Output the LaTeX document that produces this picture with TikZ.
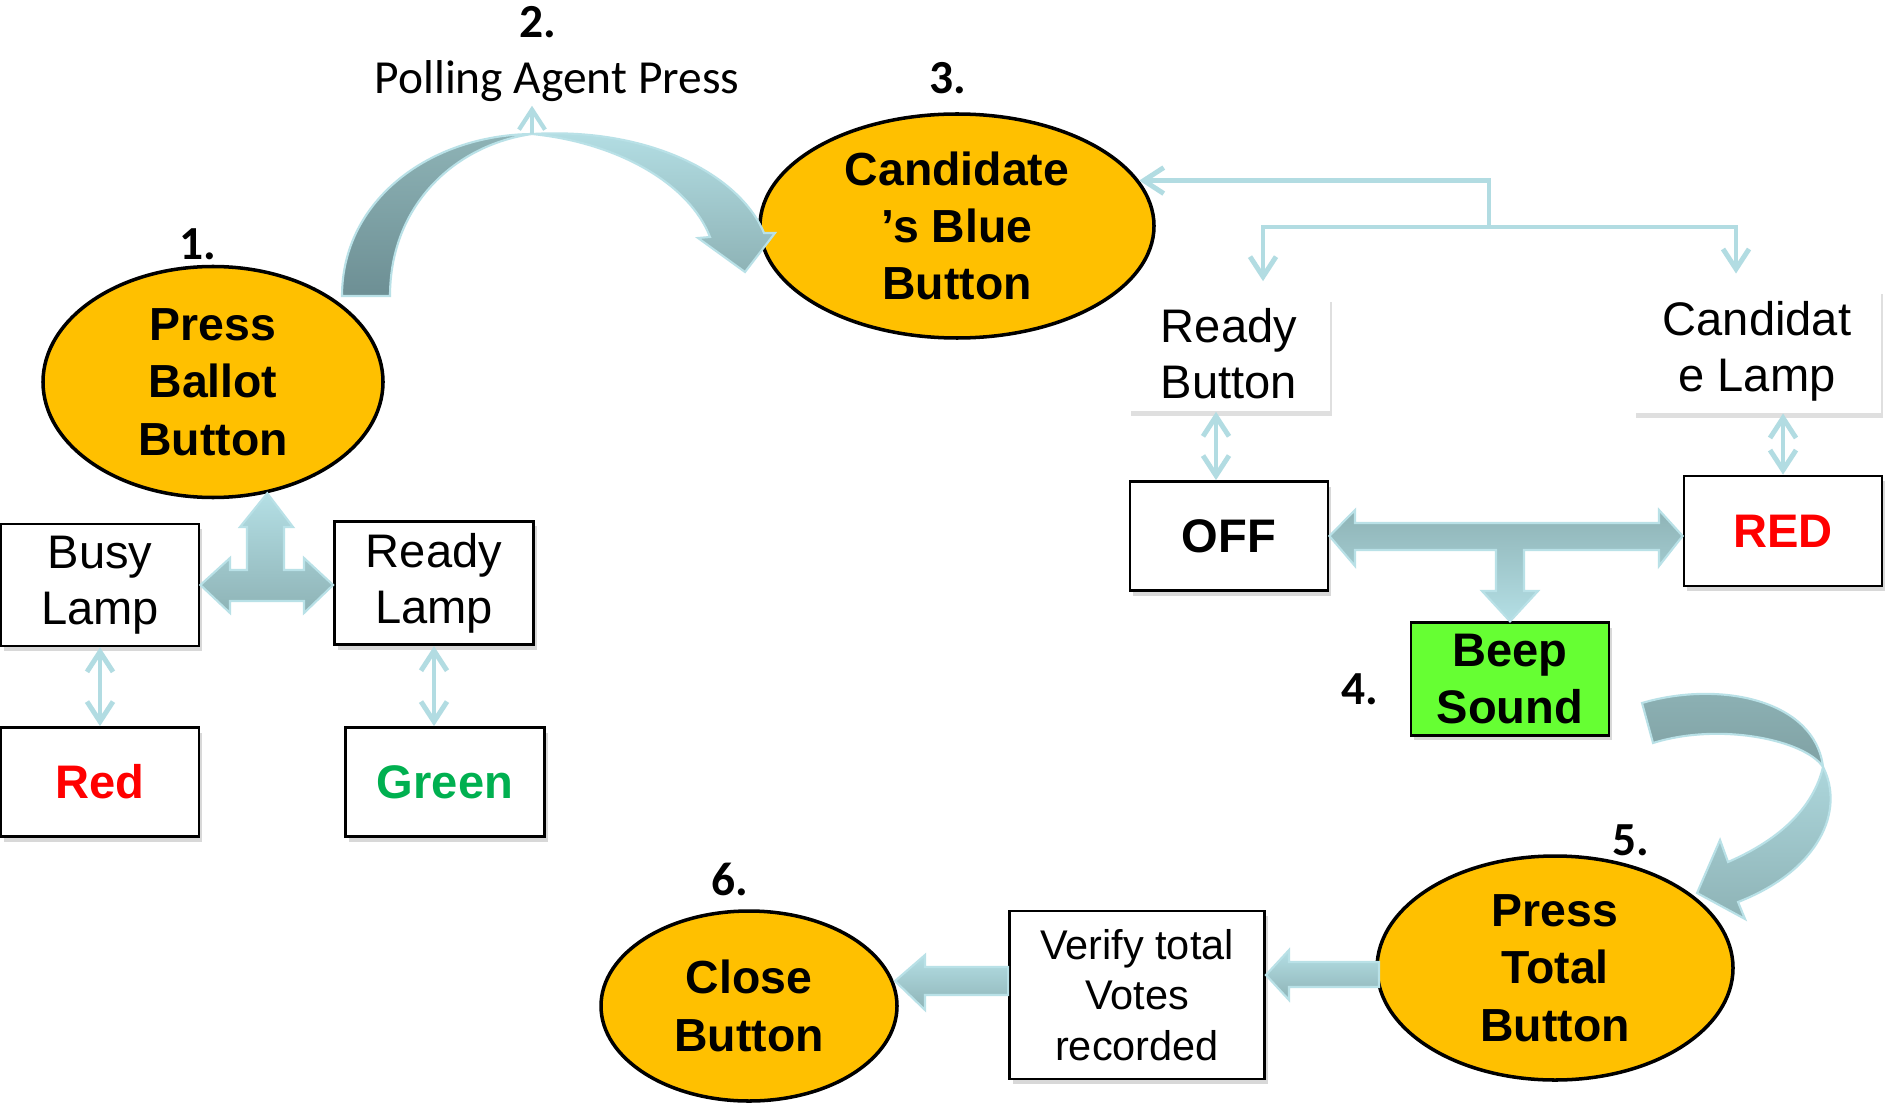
\documentclass[tikz,border=0pt]{standalone}
\usepackage{fontspec}
\setmainfont{Liberation Sans}
\newfontfamily\calibri{Carlito}
\usetikzlibrary{arrows.meta,positioning,calc,shapes.geometric,shadows}
\definecolor{Amber}{HTML}{FFC000}
\definecolor{Lime}{HTML}{66FF33}
\definecolor{LampRed}{HTML}{FF0000}
\definecolor{LampGreen}{HTML}{00B050}
\definecolor{Wire}{HTML}{B2DCE2}
\definecolor{FlowLight}{HTML}{B4DFE5}
\definecolor{FlowMid}{HTML}{8EB3B6}
\definecolor{FlowDeep}{HTML}{6D8F94}
\definecolor{FlowEdge}{HTML}{B9E1E7}
\tikzset{stage/.style={ellipse,draw=black,line width=1pt,fill=Amber,align=center,inner sep=0pt,font=\bfseries\fontsize{13.2}{16.3}\selectfont},lampbox/.style={rectangle,draw=black,line width=0.8pt,fill=white,minimum width=1.98cm,minimum height=1.09cm,align=center,font=\fontsize{13.4}{16}\selectfont,drop shadow={opacity=0.3,shadow xshift=0.03cm,shadow yshift=-0.05cm}},plainbox/.style={rectangle,fill=white,minimum height=1.12cm,align=center,font=\fontsize{13.4}{16}\selectfont,drop shadow={opacity=0.25,shadow xshift=0.02cm,shadow yshift=-0.05cm}},stepno/.style={font=\calibri\bfseries\fontsize{13.5}{16}\selectfont},wire/.style={draw=Wire,line width=1.4pt,-{Straight Barb[length=2mm,width=2.6mm]}},wirepair/.style={wire,{Straight Barb[length=2mm,width=2.6mm]}-{Straight Barb[length=2mm,width=2.6mm]}},blockarrow/.style={draw=FlowEdge,line width=0.6pt,top color=FlowLight,bottom color=FlowMid}}
\begin{document}
\begin{tikzpicture}
\fill[white] (0,0) rectangle (18.86,11.05);
\useasboundingbox (0,0) rectangle (18.86,11.05);
\node[stage,minimum width=3.40cm,minimum height=2.31cm] (ballot) at (2.13,7.23) {Press\\Ballot\\Button};
\node[stage,minimum width=3.94cm,minimum height=2.24cm] (cand) at (9.57,8.79) {Candidate\\’s Blue\\Button};
\node[stage,minimum width=3.56cm,minimum height=2.24cm] (total) at (15.55,1.37) {Press\\Total\\Button};
\node[stage,minimum width=2.96cm,minimum height=1.90cm] (close) at (7.49,0.99) {Close\\Button};
\node[stepno] at (1.98,8.61) {1.};
\node[stepno] at (5.38,10.83) {2.};
\node[stepno] at (9.48,10.27) {3.};
\node[stepno] at (13.60,4.16) {4.};
\node[stepno] at (16.31,2.65) {5.};
\node[stepno] at (7.30,2.26) {6.};
\node[font=\calibri\fontsize{13.5}{16}\selectfont,inner sep=1pt] (polling) at (5.57,10.24) {Polling Agent Press};
\node[lampbox] (busy) at (1.00,5.20) {Busy\\Lamp};
\node[lampbox,minimum width=1.99cm] (rlamp) at (4.34,5.22) {Ready\\Lamp};
\node[lampbox,text=LampRed,font=\bfseries\fontsize{13.4}{16}\selectfont] (redlamp) at (1.00,3.23) {Red};
\node[lampbox,text=LampGreen,font=\bfseries\fontsize{13.4}{16}\selectfont,minimum width=1.99cm] (greenlamp) at (4.45,3.23) {Green};
\node[plainbox,minimum width=2.01cm] (rbtn) at (12.29,7.51) {Ready\\Button};
\node[plainbox,minimum width=2.47cm] (clamp) at (17.57,7.54) {Candidat\\e Lamp};
\node[lampbox,font=\bfseries\fontsize{13.4}{16}\selectfont] (off) at (12.29,5.69) {OFF};
\node[lampbox,text=LampRed,font=\bfseries\fontsize{13.4}{16}\selectfont,minimum height=1.10cm] (red) at (17.83,5.74) {RED};
\node[lampbox,fill=Lime,font=\bfseries\fontsize{13.4}{16}\selectfont] (beep) at (15.10,4.26) {Beep\\Sound};
\node[lampbox,minimum width=2.55cm,minimum height=1.68cm,font=\fontsize{11.8}{14.3}\selectfont] (verify) at (11.37,1.10) {Verify total\\Votes\\recorded};
\coordinate (peak) at (5.32,9.71);
\draw[blockarrow,top color=FlowMid,bottom color=FlowDeep] (3.42,8.09) .. controls (3.42,9.05) and (4.30,9.70) .. (peak) .. controls (4.55,9.60) and (3.90,9.00) .. (3.90,8.09) -- cycle;
\draw[blockarrow] (peak) .. controls (6.50,9.78) and (7.40,9.30) .. (7.64,8.72) -- (7.75,8.72) -- (7.45,8.33) -- (6.98,8.67) -- (7.10,8.68) .. controls (6.90,9.20) and (6.20,9.62) .. (peak) -- cycle;
\draw[wire,line width=1.2pt] (peak) -- (peak |- polling.south);
\coordinate (split) at (14.89,8.78);
\draw[wire] (split) |- (cand.14);
\draw[wire,shorten >=0.15cm] (split) -| ([xshift=0.34cm]rbtn.north);
\draw[wire,shorten >=0.15cm] (split) -| ([xshift=-0.21cm]clamp.north);
\draw[wirepair] ([xshift=-0.13cm]rbtn.south) -- ([xshift=-0.13cm]off.north);
\draw[wirepair] (clamp.south -| red.north) -- (red.north);
\draw[wirepair] (busy.south) -- (busy.south |- redlamp.north);
\draw[wirepair] (rlamp.south) -- (rlamp.south |- greenlamp.north);
\draw[blockarrow] (busy.east) -- (2.30,5.47) -- (2.30,5.35) -- (2.47,5.35) -- (2.47,5.78) -- (2.40,5.78) -- (ballot.-64) -- (2.93,5.78) -- (2.84,5.78) -- (2.84,5.35) -- (3.04,5.35) -- (3.04,5.47) -- (rlamp.west |- busy.east) -- (3.04,4.92) -- (3.04,5.04) -- (2.30,5.04) -- (2.30,4.92) -- cycle;
\draw[blockarrow,top color=FlowMid,bottom color=FlowLight] (off.east) -- (13.55,5.95) -- (13.55,5.82) -- (16.59,5.82) -- (16.59,5.95) -- (red.west |- off.east) -- (16.59,5.39) -- (16.59,5.55) -- (15.24,5.55) -- (15.24,5.14) -- (15.38,5.14) -- (beep.north) -- (14.82,5.14) -- (14.96,5.14) -- (14.96,5.55) -- (13.55,5.55) -- (13.55,5.39) -- cycle;
\coordinate (twist) at (18.23,3.38);
\draw[blockarrow,top color=FlowMid,bottom color=FlowMid!90!black] (16.42,4.02) .. controls (17.20,4.25) and (18.15,4.05) .. (twist) .. controls (18.05,3.65) and (17.20,3.83) .. (16.53,3.62) -- cycle;
\draw[blockarrow,top color=FlowLight!80!FlowMid] (twist) .. controls (18.45,2.95) and (18.20,2.35) .. (17.38,2.03) -- (17.45,1.86) -- (16.97,2.12) -- (17.20,2.65) -- (17.28,2.43) .. controls (17.90,2.70) and (18.15,3.05) .. (twist) -- cycle;
\draw[blockarrow] (13.79,1.43) -- (12.89,1.43) -- (12.89,1.55) -- (verify.east |- 0,1.30) -- (12.89,1.05) -- (12.89,1.18) -- (13.79,1.18) -- cycle;
\draw[blockarrow] (verify.west |- 0,1.38) -- (9.25,1.38) -- (9.25,1.50) -- (8.95,1.24) -- (9.25,0.95) -- (9.25,1.10) -- (verify.west |- 0,1.10) -- cycle;
\end{tikzpicture}
\end{document}
